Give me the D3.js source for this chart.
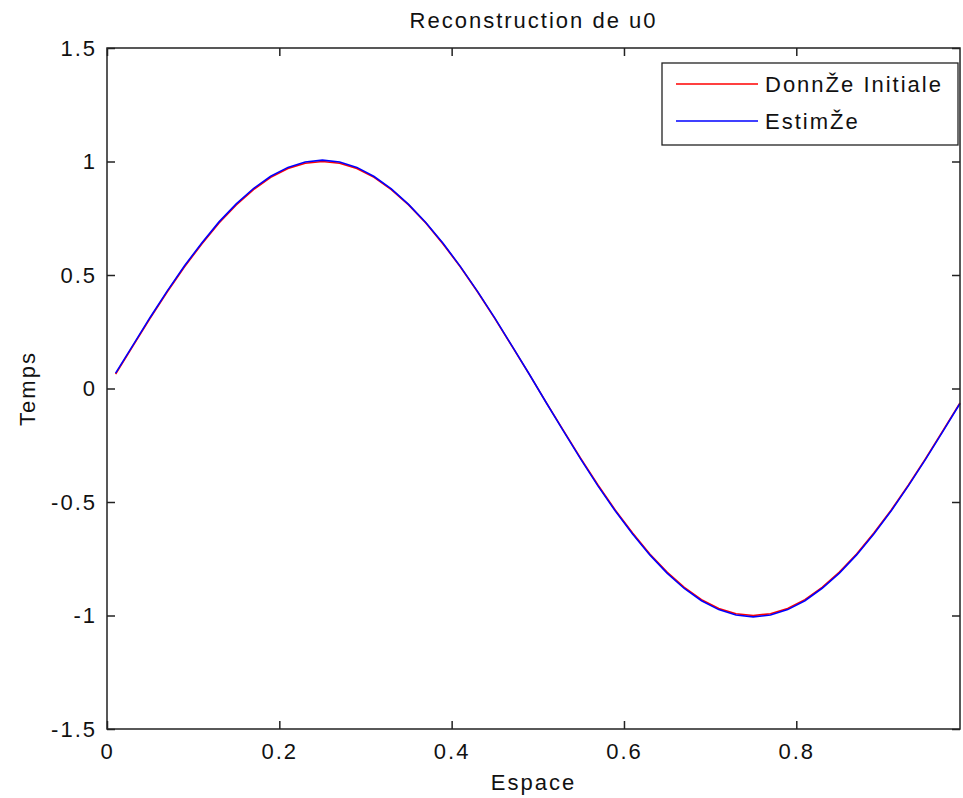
<!DOCTYPE html>
<html>
<head>
<meta charset="utf-8">
<script src="https://cdn.jsdelivr.net/npm/d3@7"></script>
<style>
    body{ margin:0; background:#fff; }
    text{ font-family: 'Liberation Sans', Arial, sans-serif; font-size:22px; letter-spacing:2px; fill:#111; }
</style>
</head>
<body>
<svg id="chart" width="963" height="798"></svg>
<script>
    'use strict';

    var espace = [
        0.01, 0.03, 0.05, 0.07, 0.09, 0.11, 0.13, 0.15, 0.17, 0.19,
        0.21, 0.23, 0.25, 0.27, 0.29, 0.31, 0.33, 0.35, 0.37, 0.39,
        0.41, 0.43, 0.45, 0.47, 0.49, 0.51, 0.53, 0.55, 0.57, 0.59,
        0.61, 0.63, 0.65, 0.67, 0.69, 0.71, 0.73, 0.75, 0.77, 0.79,
        0.81, 0.83, 0.85, 0.87, 0.89, 0.91, 0.93, 0.95, 0.97, 0.99
    ];

    var donneeInitiale = [
        0.063, 0.187, 0.309, 0.426, 0.536, 0.637, 0.729, 0.809, 0.876, 0.930,
        0.969, 0.992, 1.000, 0.992, 0.969, 0.930, 0.876, 0.809, 0.729, 0.637,
        0.536, 0.426, 0.309, 0.187, 0.063, -0.063, -0.187, -0.309, -0.426, -0.536,
        -0.637, -0.729, -0.809, -0.876, -0.930, -0.969, -0.992, -1.000, -0.992, -0.969,
        -0.930, -0.876, -0.809, -0.729, -0.637, -0.536, -0.426, -0.309, -0.187, -0.063
    ];

    var estimee = [
        0.068, 0.190, 0.313, 0.430, 0.541, 0.641, 0.734, 0.813, 0.881, 0.935,
        0.974, 0.998, 1.006, 0.998, 0.974, 0.934, 0.879, 0.811, 0.731, 0.640,
        0.538, 0.428, 0.311, 0.188, 0.064, -0.064, -0.189, -0.312, -0.430, -0.540,
        -0.641, -0.733, -0.813, -0.881, -0.935, -0.974, -0.998, -1.006, -0.998, -0.974,
        -0.935, -0.880, -0.813, -0.733, -0.641, -0.540, -0.429, -0.312, -0.190, -0.066
    ];

    var xTicks = [ 0, 0.2, 0.4, 0.6, 0.8 ],
        yTicks = [ -1.5, -1, -0.5, 0, 0.5, 1, 1.5 ],
        series = [
            { name: 'DonnŽe Initiale', values: donneeInitiale, color: '#ff0000' },
            { name: 'EstimŽe', values: estimee, color: '#0000ff' }
        ];

    var box = { left: 107, top: 48, right: 960, bottom: 729 },
        svg = d3.select( '#chart' ),
        x = d3.scaleLinear().domain( [0, 0.99] ).range( [box.left, box.right] ),
        y = d3.scaleLinear().domain( [-1.5, 1.5] ).range( [box.bottom, box.top] ),
        tick = 8,
        plain = function( d ){ return String( d ); };   // matlab style, ascii hyphen

    svg.append( 'rect' )
        .attr( 'width', 963 )
        .attr( 'height', 798 )
        .attr( 'fill', '#fff' );

    // curves first, the axes box sits on top
    var line = d3.line()
        .x( function( d, i ){ return x( espace[i] ); } )
        .y( function( d ){ return y( d ); } );

    series.forEach(function( s ){
        svg.append( 'path' )
            .datum( s.values )
            .attr( 'd', line )
            .attr( 'fill', 'none' )
            .attr( 'stroke', s.color )
            .attr( 'stroke-width', 1.6 );
    });

    function styleAxis( g ){
        g.select( '.domain' ).remove();
        g.selectAll( 'line' ).attr( 'stroke', '#222' ).attr( 'stroke-width', 1.5 );
        g.selectAll( 'text' ).attr( 'fill', '#111' ).style( 'font-size', '22px' );
    }

    svg.append( 'g' )
        .attr( 'transform', 'translate(0,' + box.bottom + ')' )
        .call( d3.axisBottom( x ).tickValues( xTicks ).tickFormat( plain )
            .tickSizeInner( -tick ).tickSizeOuter( 0 ).tickPadding( 14 ) )
        .call( styleAxis );

    svg.append( 'g' )
        .attr( 'transform', 'translate(0,' + box.top + ')' )
        .call( d3.axisTop( x ).tickValues( xTicks ).tickFormat( '' )
            .tickSizeInner( -tick ).tickSizeOuter( 0 ) )
        .call( styleAxis );

    svg.append( 'g' )
        .attr( 'transform', 'translate(' + box.left + ',0)' )
        .call( d3.axisLeft( y ).tickValues( yTicks ).tickFormat( plain )
            .tickSizeInner( -tick ).tickSizeOuter( 0 ).tickPadding( 10 ) )
        .call( styleAxis );

    svg.append( 'g' )
        .attr( 'transform', 'translate(' + box.right + ',0)' )
        .call( d3.axisRight( y ).tickValues( yTicks ).tickFormat( '' )
            .tickSizeInner( -tick ).tickSizeOuter( 0 ) )
        .call( styleAxis );

    svg.append( 'rect' )
        .attr( 'x', box.left )
        .attr( 'y', box.top )
        .attr( 'width', box.right - box.left )
        .attr( 'height', box.bottom - box.top )
        .attr( 'fill', 'none' )
        .attr( 'stroke', '#222' )
        .attr( 'stroke-width', 1.5 );

    // titles
    svg.append( 'text' )
        .attr( 'x', (box.left + box.right) / 2 )
        .attr( 'y', 28 )
        .attr( 'text-anchor', 'middle' )
        .text( 'Reconstruction de u0' );

    svg.append( 'text' )
        .attr( 'x', (box.left + box.right) / 2 )
        .attr( 'y', 790 )
        .attr( 'text-anchor', 'middle' )
        .text( 'Espace' );

    svg.append( 'text' )
        .attr( 'transform', 'translate(35,' + ((box.top + box.bottom) / 2) + ') rotate(-90)' )
        .attr( 'text-anchor', 'middle' )
        .text( 'Temps' );

    // legend
    var legend = svg.append( 'g' );

    legend.append( 'rect' )
        .attr( 'x', 662 )
        .attr( 'y', 63 )
        .attr( 'width', 296 )
        .attr( 'height', 82 )
        .attr( 'fill', '#fff' )
        .attr( 'stroke', '#222' )
        .attr( 'stroke-width', 1.3 );

    series.forEach(function( s, i ){
        var ly = 84 + i * 37;

        legend.append( 'line' )
            .attr( 'x1', 676 )
            .attr( 'x2', 758 )
            .attr( 'y1', ly )
            .attr( 'y2', ly )
            .attr( 'stroke', s.color )
            .attr( 'stroke-width', 1.6 );

        legend.append( 'text' )
            .attr( 'x', 765 )
            .attr( 'y', ly + 8 )
            .text( s.name );
    });
</script>
</body>
</html>
